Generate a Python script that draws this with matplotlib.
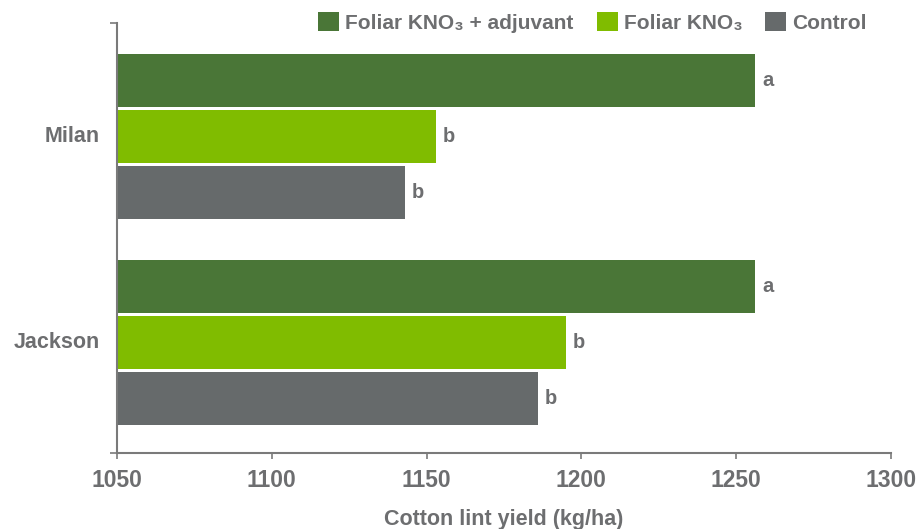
import matplotlib.pyplot as plt
import numpy as np

plt.rcParams['font.family'] = ['Liberation Sans', 'DejaVu Sans']
plt.rcParams['font.weight'] = 'bold'

# data
sites = ['Jackson', 'Milan']
adjuvant = [1256, 1256]
foliar = [1195, 1153]
control = [1186, 1143]
letters_adj = ['a', 'a']
letters_fol = ['b', 'b']
letters_con = ['b', 'b']

series_names = ['Foliar KNO\u2083 + adjuvant', 'Foliar KNO\u2083', 'Control']
colors = ['#4a7637', '#80bc00', '#666a6b']
text_col = '#6d6e70'
axis_col = '#7a7a7a'

fig = plt.figure(figsize=(9.16, 5.29), dpi=100)
ax = fig.add_axes([0.1277, 0.1437, 0.8450, 0.8128])

y = np.arange(len(sites))
h = 0.256
step = 0.272
groups = [(adjuvant, letters_adj, step), (foliar, letters_fol, 0), (control, letters_con, -step)]
for (vals, lets, off), col, name in zip(groups, colors, series_names):
    ax.barh(y + off, np.array(vals) - 1050, left=1050, height=h, color=col, label=name)
    for yi, v, l in zip(y + off, vals, lets):
        ax.text(v + 2.3, yi, l, va='center', ha='left', fontsize=14.5, color=text_col, fontweight='bold')

ax.set_xlim(1050, 1300)
ax.set_ylim(-0.537, 1.55)
ax.set_xticks([1050, 1100, 1150, 1200, 1250, 1300])
ax.tick_params(axis='x', length=4, width=1.2, color=axis_col, labelsize=16.5, labelcolor=text_col, pad=7.5)
ax.set_yticks([-0.537, 1.55])
ax.set_yticklabels(['', ''])
ax.tick_params(axis='y', length=5, width=1.2, color=axis_col)
for yi, s in zip(y, sites):
    ax.text(-0.022, yi, s, transform=ax.get_yaxis_transform(), ha='right', va='center',
            fontsize=15.5, color=text_col, fontweight='bold')

for side in ['top', 'right']:
    ax.spines[side].set_visible(False)
for side in ['left', 'bottom']:
    ax.spines[side].set_color(axis_col)
    ax.spines[side].set_linewidth(1.5)

ax.set_xlabel('Cotton lint yield (kg/ha)', fontsize=15.5, color=text_col, fontweight='bold', labelpad=12)

fig.legend(loc='upper right', bbox_to_anchor=(0.967, 1.012), ncol=3, frameon=False,
           fontsize=15, handlelength=1.0, handleheight=1.0, handletextpad=0.3,
           columnspacing=1.1, labelcolor=text_col)

fig.savefig('out.png', dpi=100)
